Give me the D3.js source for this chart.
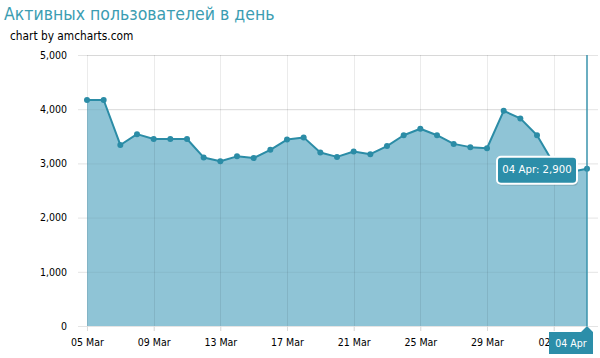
<!DOCTYPE html>
<html><head><meta charset="utf-8">
<script src="https://cdn.jsdelivr.net/npm/d3@7"></script>
<style>body{margin:0;background:#fff}svg{display:block}</style>
</head><body>
<svg id="c" width="600" height="358"></svg>
<script>
const titleText = "Активных пользователей в день";
const creditText = "chart by amcharts.com";
const startDate = "2013-03-05";
const values = [4170,4170,3340,3540,3450,3450,3450,3110,3040,3130,3100,3250,3440,3480,3200,3120,3220,3170,3320,3520,3640,3520,3360,3300,3280,3970,3830,3520,3000,2840,2900];
const yTicks = [0,1000,2000,3000,4000,5000];
const xTickLabels = ["05 Mar","09 Mar","13 Mar","17 Mar","21 Mar","25 Mar","29 Mar","02 Apr"];
const tooltipText = "04 Apr: 2,900";
const cursorLabel = "04 Apr";

const parse = d3.timeParse("%Y-%m-%d");
const d0 = parse(startDate);
const data = values.map((v,i)=>({date:d3.timeDay.offset(d0,i), value:v}));
const fmtTick = d3.timeFormat("%d %b");
const tickDates = data.map(d=>d.date).filter(d=>xTickLabels.includes(fmtTick(d)));

const svg = d3.select("#c");
const FONT = "'DejaVu Sans Condensed','DejaVu Sans',sans-serif";
const lineColor = "#2b8ca6", fillColor = "#8fc4d6";

const x = d3.scaleTime().domain(d3.extent(data,d=>d.date)).range([87,587]);
const y = d3.scaleLinear().domain([0,5000]).range([326,55]);

svg.append("text").attr("x",4).attr("y",20).attr("font-family",FONT).attr("font-size",17.5)
  .attr("fill","#3b9db2").text(titleText);
svg.append("text").attr("x",10).attr("y",40).attr("font-family",FONT).attr("font-size",11.8)
  .attr("fill","#000").text(creditText);

// horizontal grid
svg.append("g").selectAll("line").data(yTicks).join("line")
  .attr("x1",78).attr("x2",598).attr("y1",d=>y(d)+0.5).attr("y2",d=>y(d)+0.5)
  .attr("stroke","#e4e4e4");

// area
const area = d3.area().x(d=>x(d.date)).y0(y(0)).y1(d=>y(d.value));
svg.append("path").datum(data).attr("d",area).attr("fill",fillColor);

// grid on top of fill
svg.append("g").selectAll("line").data(tickDates).join("line")
  .attr("x1",d=>Math.round(x(d))+0.5).attr("x2",d=>Math.round(x(d))+0.5)
  .attr("y1",55).attr("y2",331).attr("stroke","rgba(0,0,0,0.08)");
svg.append("g").selectAll("line").data(yTicks).join("line")
  .attr("x1",87).attr("x2",587).attr("y1",d=>y(d)+0.5).attr("y2",d=>y(d)+0.5)
  .attr("stroke","rgba(0,0,0,0.05)");

// y axis
const yAxis = d3.axisLeft(y).tickValues(yTicks).tickFormat(d3.format(",")).tickSize(0).tickPadding(20);
const ga = svg.append("g").attr("transform","translate(87,0)").call(yAxis);
ga.select(".domain").remove();
ga.selectAll("text").attr("font-family",FONT).attr("font-size",10.5).attr("fill","#000");

// x axis
const xAxis = d3.axisBottom(x).tickValues(tickDates).tickFormat(fmtTick).tickSize(5).tickPadding(8);
const gx = svg.append("g").attr("transform","translate(0,326)").call(xAxis);
gx.select(".domain").attr("stroke","#e4e4e4").attr("d","M78,0.5H598");
gx.selectAll("line").attr("stroke","#dcdcdc");
gx.selectAll("text").attr("font-family",FONT).attr("font-size",10.5).attr("fill","#000");

// line and points
const line = d3.line().x(d=>x(d.date)).y(d=>y(d.value));
svg.append("path").datum(data).attr("d",line).attr("fill","none").attr("stroke",lineColor)
  .attr("stroke-width",2).attr("stroke-linejoin","round");
svg.append("g").selectAll("circle").data(data).join("circle")
  .attr("cx",d=>x(d.date)).attr("cy",d=>y(d.value)).attr("r",3).attr("fill",lineColor);

// cursor
const last = data[data.length-1];
const cx = x(last.date);
svg.append("line").attr("x1",cx).attr("x2",cx).attr("y1",55).attr("y2",326)
  .attr("stroke","#3a93ad").attr("stroke-width",1.5);

// tooltip balloon
const ty = y(last.value);
const tb = svg.append("g");
tb.append("rect").attr("x",cx-89).attr("y",ty-10).attr("width",80).attr("height",27).attr("rx",4)
  .attr("fill","rgba(0,0,0,0.12)");
tb.append("rect").attr("x",cx-90).attr("y",ty-12).attr("width",80).attr("height",27).attr("rx",4)
  .attr("fill","#2c8ea9").attr("stroke","#fff").attr("stroke-width",2);
tb.append("text").attr("x",cx-50).attr("y",ty+1.5).attr("text-anchor","middle").attr("dominant-baseline","middle")
  .attr("font-family",FONT).attr("font-size",11.3).attr("fill","#fff").text(tooltipText);

// category balloon
const cb = svg.append("g");
cb.append("path").attr("d",`M${cx-38},332H${cx-6}L${cx},326L${cx+6},332H${cx+6}V354H${cx-38}Z`)
  .attr("fill","#2c8ea9");
cb.append("text").attr("x",cx-16).attr("y",343.5).attr("text-anchor","middle").attr("dominant-baseline","middle")
  .attr("font-family",FONT).attr("font-size",10.5).attr("fill","#fff").text(cursorLabel);
</script>
</body></html>
